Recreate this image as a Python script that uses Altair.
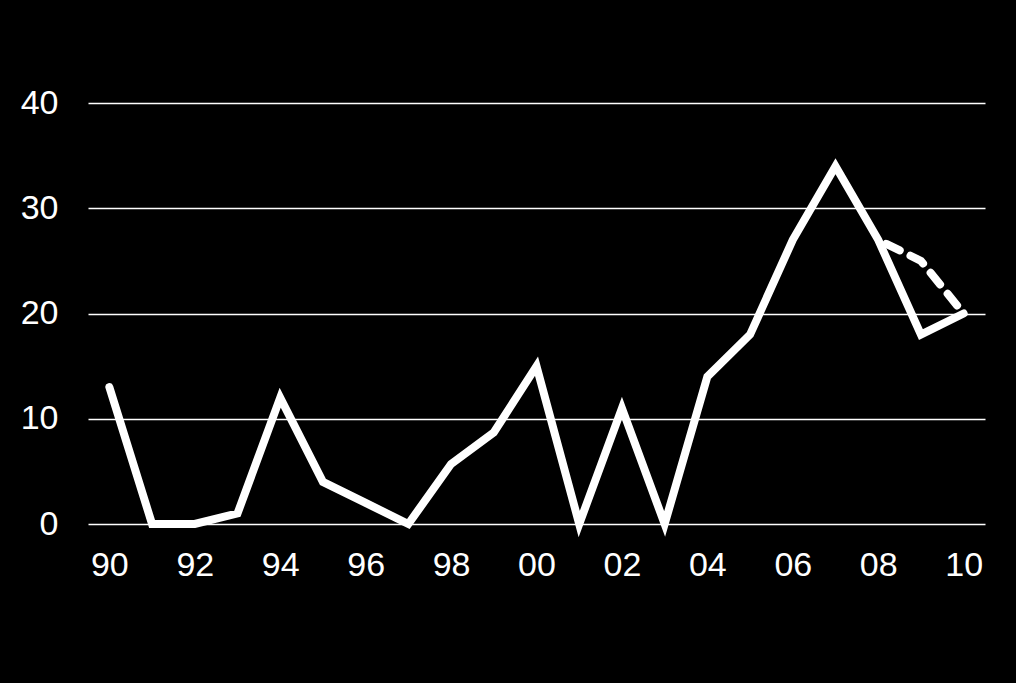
import altair as alt
import pandas as pd

years = list(range(1990, 2011))
values = [13, 0, 0, 1, 12, 4, 2, 0, 5.7, 8.7, 15, 0, 11, 0, 14, 18, 27, 34, 27, 18, 20]

dash_years = [2008, 2009, 2010]
dash_values = [27, 25, 20]

solid = pd.DataFrame({"year": years, "value": values})
dashed = pd.DataFrame({"year": dash_years, "value": dash_values})

FONT = "Liberation Sans"

x = alt.X(
    "year:Q",
    scale=alt.Scale(domain=[1989.5, 2010.5], nice=False, zero=False),
    axis=alt.Axis(
        values=list(range(1990, 2011, 2)),
        labelExpr="format(datum.value % 100, '02d')",
        grid=False, domain=False, ticks=False,
        labelColor="white", labelFontSize=34, labelFont=FONT,
        labelPadding=24, title=None,
    ),
)
y = alt.Y(
    "value:Q",
    scale=alt.Scale(domain=[0, 40], nice=False),
    axis=alt.Axis(
        values=[0, 10, 20, 30, 40],
        grid=True, gridColor="white", gridWidth=1.5, gridOpacity=1,
        domain=False, ticks=False,
        labelColor="white", labelFontSize=34, labelFont=FONT,
        labelPadding=30, title=None,
    ),
)

base_line = alt.Chart(solid).mark_line(
    color="white", strokeWidth=8, strokeJoin="miter", strokeCap="round"
).encode(x=x, y=y)

dash_line = alt.Chart(dashed).mark_line(
    color="white", strokeWidth=8, strokeDash=[15, 12], strokeDashOffset=-9, strokeCap="round"
).encode(x="year:Q", y="value:Q")

chart = alt.layer(base_line, dash_line).properties(
    width=897, height=421,
    background="black",
    padding={"left": 80, "top": 95, "right": 15, "bottom": 120},
    autosize=alt.AutoSizeParams(type="none"),
).configure_view(stroke=None)

chart.save("out.html", embed_options={"renderer": "svg", "actions": False})

with open("out.html") as f:
    html = f.read()
html = html.replace("<head>", "<head><style>body{background:black;}</style>", 1)
with open("out.html", "w") as f:
    f.write(html)
